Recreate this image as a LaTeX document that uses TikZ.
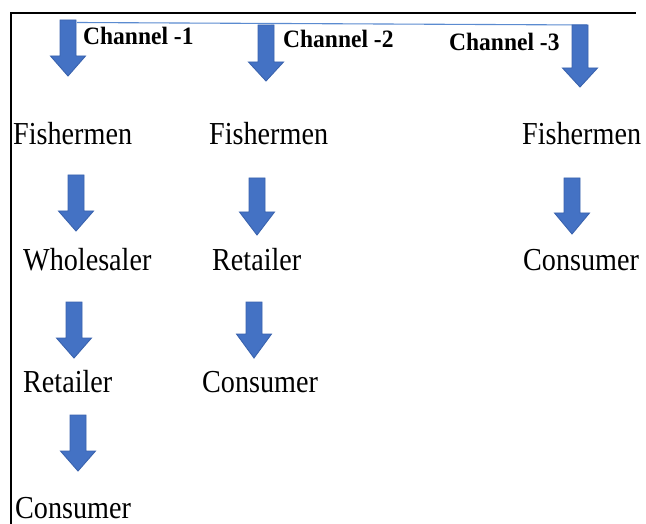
\documentclass[tikz,border=0pt]{standalone}
\usepackage{fontspec}
\newfontfamily\regfont[FakeStretch=0.88]{Liberation Serif}
\newfontfamily\chfont[FakeStretch=0.94]{Liberation Serif}
\definecolor{arrowfill}{HTML}{4472C4}
\definecolor{arrowedge}{HTML}{3A63AE}
\definecolor{toplinec}{HTML}{5B8BD0}
\newcommand\blockarrow[5]{%
  \draw[blk] ({#1-8},#2) -- ({#1+8},#2) -- ({#1+8},#3) -- ({#1+17.5},#3) --
    (#1,#4) -- ({#1-17.5},#3) -- ({#1-8},#3) -- cycle;
  \coordinate (#5) at (#1,#4);}
\begin{document}
\begin{tikzpicture}[x=1pt,y=-1pt,
  lbl/.style={anchor=base west,inner sep=0pt,font=\regfont\fontsize{32}{32}\selectfont},
  chl/.style={anchor=base west,inner sep=0pt,font=\chfont\bfseries\fontsize{25}{25}\selectfont},
  blk/.style={fill=arrowfill,draw=arrowedge,line width=0.9pt,line join=miter},
  topline/.style={draw=toplinec,line width=1.1pt}]
\useasboundingbox (0,0) rectangle (646,524);
\fill[white] (0,0) rectangle (646,524);
% frame
\coordinate (fb) at (11,524);
\coordinate (fc) at (11,13);
\coordinate (fr) at (636,13);
\draw[line width=1.3pt] (fb) -- (fc) -- (fr);
% channel line
\coordinate (l1) at (77,22.5);
\coordinate (l3) at (587,25);
\draw[topline] (l1) -- (l3);
% top arrows
\blockarrow{68}{20}{56}{76}{a1}
\blockarrow{266}{25}{62}{81}{a2}
\blockarrow{580}{25}{68}{87}{a3}
% channel labels
\node[chl] (ch1) at (83,45) {Channel -1};
\node[chl] (ch2) at (283,48) {Channel -2};
\node[chl] (ch3) at (449,51) {Channel -3};
% column 1
\node[lbl] (f1) at (13,145) {Fishermen};
\blockarrow{76}{175}{211}{231}{b1}
\node[lbl] (w1) at (23,270) {Wholesaler};
\blockarrow{74}{302}{338}{358}{b2}
\node[lbl] (r1) at (23,392) {Retailer};
\blockarrow{78}{415}{451}{471}{b3}
\node[lbl] (c1) at (15,518) {Consumer};
% column 2
\node[lbl] (f2) at (209,145) {Fishermen};
\blockarrow{257}{178}{212}{235}{c1a}
\node[lbl] (r2) at (212,270) {Retailer};
\blockarrow{254}{302}{334}{358}{c2a}
\node[lbl] (c2) at (202,392) {Consumer};
% column 3
\node[lbl] (f3) at (522,145) {Fishermen};
\blockarrow{572}{178}{213}{234}{d1}
\node[lbl] (c3) at (523,270) {Consumer};
\end{tikzpicture}
\end{document}
